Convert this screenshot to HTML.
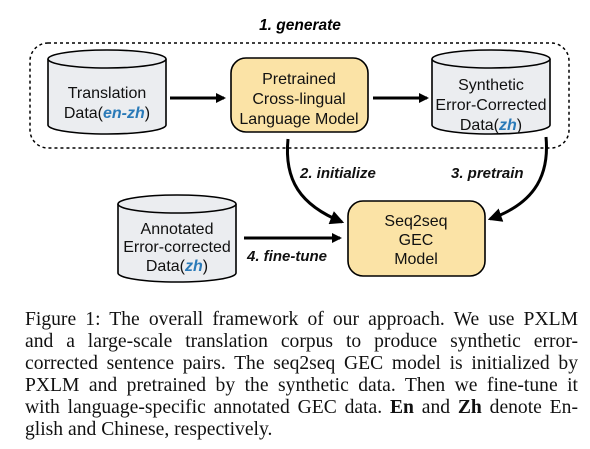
<!DOCTYPE html>
<html><head><meta charset="utf-8"><style>
body{margin:0;background:#fff;width:590px;height:449px;overflow:hidden;position:relative}
svg{position:absolute;left:0;top:0}
.cap{position:absolute;left:25px;top:309px;width:553px;font-family:"Liberation Serif",serif;font-size:19.6px;line-height:21.9px;color:#111}
.cap div{text-align:justify;text-align-last:justify;white-space:nowrap}
.cap div.l{text-align-last:left}
</style></head><body>
<svg width="590" height="300" viewBox="0 0 590 300" font-family="Liberation Sans, Arial, sans-serif">
<defs><marker id="a" markerWidth="10" markerHeight="10" refX="8" refY="5" orient="auto" markerUnits="userSpaceOnUse"><path d="M0,0 L10,5 L0,10 z" fill="#000"/></marker>
<marker id="b" viewBox="0 0 12 12" markerWidth="14" markerHeight="14" refX="10" refY="6" orient="auto" markerUnits="userSpaceOnUse"><path d="M0,0 L12,6 L0,12 z" fill="#000"/></marker></defs>
<text x="300" y="30" text-anchor="middle" font-size="15.5" font-weight="bold" font-style="italic">1. generate</text>
<rect x="30" y="43" width="539" height="105" rx="18" fill="none" stroke="#000" stroke-width="1.5" stroke-dasharray="3,3"/>
<g stroke="#000" stroke-width="1.6" fill="#ebedf0">
<path d="M48,59 L48,125 A59,9 0 0 0 166,125 L166,59"/>
<ellipse cx="107" cy="59" rx="59" ry="9"/>
<path d="M432,59 L432,125 A59,9 0 0 0 550,125 L550,59"/>
<ellipse cx="491" cy="59" rx="59" ry="9"/>
<path d="M118,204 L118,273 A59,9 0 0 0 236,273 L236,204"/>
<ellipse cx="177" cy="204" rx="59" ry="9"/>
</g>
<g stroke="#000" stroke-width="1.6" fill="#fbe3a6">
<rect x="231" y="58" width="137" height="74" rx="15"/>
<rect x="348" y="201" width="137" height="75" rx="15"/>
</g>
<g font-size="16" text-anchor="middle" fill="#111">
<text x="107" y="98">Translation</text>
<text x="107" y="118">Data(<tspan fill="#2a7ab8" font-weight="bold" font-style="italic">en-zh</tspan>)</text>
<text x="299" y="84">Pretrained</text>
<text x="299" y="104">Cross-lingual</text>
<text x="299" y="124">Language Model</text>
<text x="491" y="90">Synthetic</text>
<text x="491" y="110">Error-Corrected</text>
<text x="491" y="130">Data(<tspan fill="#2a7ab8" font-weight="bold" font-style="italic">zh</tspan>)</text>
<text x="416" y="226">Seq2seq</text>
<text x="416" y="245">GEC</text>
<text x="416" y="264">Model</text>
<text x="177" y="234">Annotated</text>
<text x="177" y="252">Error-corrected</text>
<text x="177" y="271">Data(<tspan fill="#2a7ab8" font-weight="bold" font-style="italic">zh</tspan>)</text>
</g>
<g stroke="#000" stroke-width="3" fill="none">
<line x1="170" y1="98" x2="224" y2="98" marker-end="url(#a)"/>
<line x1="373" y1="98" x2="427" y2="98" marker-end="url(#a)"/>
<line x1="244" y1="238" x2="340" y2="238" marker-end="url(#a)"/>
<path d="M288,139 C284,180 300,205 342,222" marker-end="url(#b)"/>
<path d="M546,137 C550,180 530,205 490,219" marker-end="url(#b)"/>
</g>
<g font-size="15" font-weight="bold" font-style="italic" fill="#111">
<text x="300" y="178">2. initialize</text>
<text x="451" y="178">3. pretrain</text>
<text x="247" y="261">4. fine-tune</text>
</g>
</svg>
<div class="cap">
<div>Figure 1: The overall framework of our approach. We use PXLM</div>
<div>and a large-scale translation corpus to produce synthetic error-</div>
<div>corrected sentence pairs. The seq2seq GEC model is initialized by</div>
<div>PXLM and pretrained by the synthetic data. Then we fine-tune it</div>
<div>with language-specific annotated GEC data. <b>En</b> and <b>Zh</b> denote En-</div>
<div class="l">glish and Chinese, respectively.</div>
</div>
</body></html>
